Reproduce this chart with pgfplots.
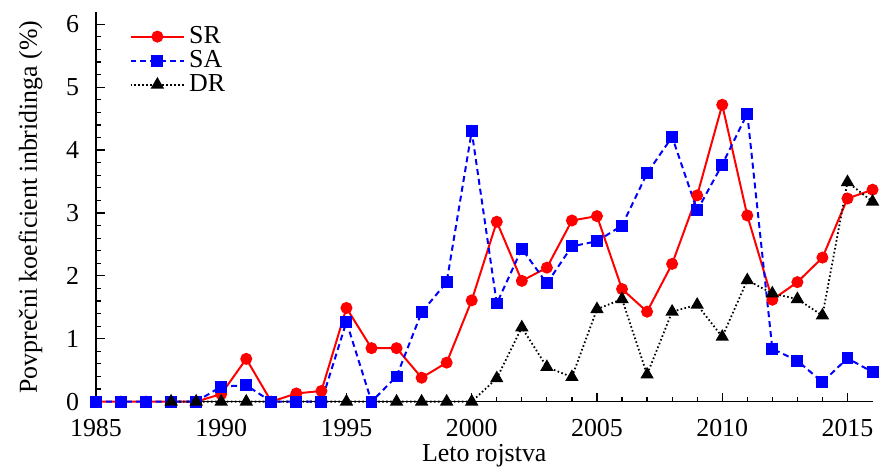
\documentclass[border=0pt]{standalone}
\usepackage{fontspec}
\setmainfont{Liberation Serif}
\usepackage{pgfplots}
\pgfplotsset{compat=1.18}

% Average inbreeding coefficient by birth year, three breeds
\pgfplotstableread{
year  val
1985  0
1986  0
1987  0
1988  0
1989  0
1990  0.12
1991  0.68
1992  0
1993  0.13
1994  0.17
1995  1.49
1996  0.85
1997  0.85
1998  0.38
1999  0.62
2000  1.61
2001  2.86
2002  1.92
2003  2.13
2004  2.88
2005  2.95
2006  1.79
2007  1.43
2008  2.19
2009  3.28
2010  4.72
2011  2.96
2012  1.62
2013  1.90
2014  2.29
2015  3.23
2016  3.37
}\tableSR

\pgfplotstableread{
year  val
1985  0
1986  0
1987  0
1988  0
1989  0
1990  0.24
1991  0.26
1992  0
1993  0
1994  0
1995  1.27
1996  0
1997  0.40
1998  1.42
1999  1.90
2000  4.30
2001  1.56
2002  2.43
2003  1.88
2004  2.47
2005  2.55
2006  2.80
2007  3.63
2008  4.21
2009  3.04
2010  3.77
2011  4.58
2012  0.84
2013  0.65
2014  0.31
2015  0.69
2016  0.47
}\tableSA

\pgfplotstableread{
year  val
1988  0
1989  0
1990  0
1991  0
1995  0
1997  0
1998  0
1999  0
2000  0
2001  0.37
2002  1.18
2003  0.55
2004  0.39
2005  1.47
2006  1.63
2007  0.43
2008  1.43
2009  1.54
2010  1.03
2011  1.93
2012  1.72
2013  1.63
2014  1.37
2015  3.49
2016  3.18
}\tableDR

\begin{document}
\begin{tikzpicture}
\begin{axis}[
  scale only axis,
  width=390pt, height=195.5pt,
  xmin=1985, xmax=2016,
  ymin=0, ymax=6.19,
  axis lines*=left,
  axis line style={line width=0.8pt},
  tick align=inside,
  major tick length=4.5pt,
  minor tick length=2.5pt,
  every tick/.style={black, line width=0.6pt},
  xtick={1985,1990,...,2015},
  minor x tick num=4,
  ytick={0,1,...,6},
  minor y tick num=4,
  /pgf/number format/1000 sep={},
  /pgf/number format/assume math mode=true,
  tick label style={font=\fontsize{13}{15}\selectfont},
  label style={font=\fontsize{13}{15}\selectfont},
  xticklabel style={yshift=-5.5pt},
  yticklabel style={xshift=-5pt},
  xlabel={Leto rojstva},
  ylabel={Povprečni koeficient inbridinga (\%)},
  xlabel style={yshift=3pt},
  ylabel style={yshift=5pt},
  legend style={draw=none, fill=none, at={(0.035,0.985)}, anchor=north west,
    font=\fontsize{13}{15}\selectfont, row sep=-2pt},
  legend cell align=left,
  legend image code/.code={
    \draw[mark repeat=2, mark phase=2, #1] plot coordinates {(0pt,0pt) (13.5pt,0pt) (27pt,0pt)};
  },
  clip=false,
]
\addplot[red, line width=1pt, mark=*, mark size=2.5pt] table[x=year, y=val] {\tableSR};
\addlegendentry{SR}
\addplot[blue, line width=1pt, dash pattern=on 3pt off 2pt, mark=square*, mark size=2.5pt,
  mark options={solid}] table[x=year, y=val] {\tableSA};
\addlegendentry{SA}
\addplot[black, line width=0.9pt, dash pattern=on 0.8pt off 1.2pt, mark=triangle*, mark size=3pt,
  mark options={solid}] table[x=year, y=val] {\tableDR};
\addlegendentry{DR}
\end{axis}
% white margins to the left of the vertical axis title and above the plot
\path (current bounding box.west) ++(-6pt,0);
\path (current bounding box.north) ++(0,4.5pt);
\end{tikzpicture}
\end{document}
